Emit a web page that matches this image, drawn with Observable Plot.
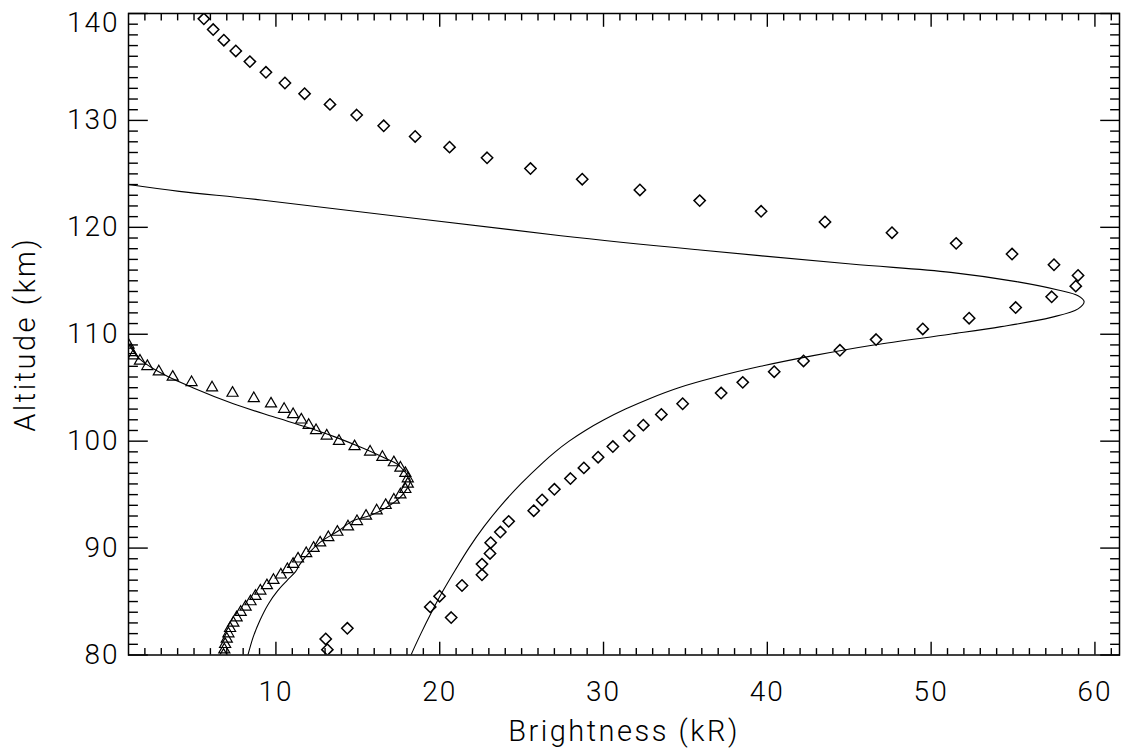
<!DOCTYPE html>
<html><head><meta charset="utf-8">
<script src="https://cdn.jsdelivr.net/npm/d3@7"></script>
<script src="https://cdn.jsdelivr.net/npm/@observablehq/plot@0.6"></script>
<style>
html,body{margin:0;padding:0;background:#fff} svg{display:block}
g[aria-label="text"] text{letter-spacing:2.5px}
g[aria-label$="tick label"] text{letter-spacing:2px}
</style>
</head><body><div id="chart"></div>
<script>
// Measured profile (diamonds): altitude (km) and brightness (kR)
const diamondAlt = [139.5,138.5,137.5,136.5,135.5,134.5,133.5,132.5,131.5,130.5,
  129.5,128.5,127.5,126.5,125.5,124.5,123.5,122.5,121.5,120.5,
  119.5,118.5,117.5,116.5,115.5,114.5,113.5,112.5,111.5,110.5,
  109.5,108.5,107.5,106.5,105.5,104.5,103.5,102.5,101.5,100.5,
  99.5,98.5,97.5,96.5,95.5,94.5,93.5,92.5,91.5,90.5,
  89.5,88.5,87.5,86.5,85.5,84.5,83.5,82.5,81.5,80.5];
const diamondVal = [5.60,6.17,6.82,7.55,8.41,9.39,10.55,11.75,13.30,14.93,
  16.58,18.50,20.60,22.89,25.54,28.70,32.22,35.87,39.62,43.52,
  47.61,51.53,54.94,57.50,58.97,58.83,57.36,55.16,52.32,49.49,
  46.64,44.43,42.21,40.42,38.50,37.18,34.83,33.53,32.43,31.57,
  30.57,29.67,28.80,27.98,27.00,26.25,25.74,24.21,23.70,23.11,
  23.07,22.58,22.58,21.36,19.99,19.42,20.70,14.36,13.04,13.14];

// Second measured profile (triangles)
const triAlt = [109.0,108.5,108.0,107.5,107.0,106.5,106.0,105.5,105.0,104.5,
  104.0,103.5,103.0,102.5,102.0,101.5,101.0,100.5,100.0,99.5,
  99.0,98.5,98.0,97.5,97.0,96.5,96.0,95.5,95.0,94.5,
  94.0,93.5,93.0,92.5,92.0,91.5,91.0,90.5,90.0,89.5,
  89.0,88.5,88.0,87.5,87.0,86.5,86.0,85.5,85.0,84.5,
  84.0,83.5,83.0,82.5,82.0,81.5,81.0,80.5,80.0];
const triVal = [1.0,1.1,1.3,1.7,2.15,2.85,3.7,4.85,6.1,7.35,
  8.65,9.7,10.5,11.05,11.55,12.0,12.45,13.1,13.85,14.8,
  15.75,16.5,17.2,17.6,17.9,18.05,18.05,17.9,17.6,17.2,
  16.7,16.15,15.5,14.95,14.4,13.75,13.2,12.7,12.3,11.85,
  11.35,11.05,10.7,10.3,9.85,9.45,9.05,8.75,8.45,8.15,
  7.85,7.6,7.4,7.2,7.1,7.0,6.9,6.85,6.8];

// Model curve 1 (solid line through the large profile)
const model1Val = [1.0,4.1,9.1,27.4,35.9,45.1,51.2,55.3,57.75,58.97,59.34,58.97,57.34,54.28,51.15,46.5,42.8,39.59,36.87,34.59,32.84,31.34,30.03,28.89,27.9,27.05,26.3,24.95,23.75,22.7,21.78,20.97,20.2,19.5,18.85,18.25,18.15];
const model1Alt = [124.0,123.36,122.56,119.22,117.88,116.57,115.79,114.9,114.14,113.6,113.05,112.37,111.58,110.71,110.0,109.0,108.0,107.0,106.0,105.0,104.0,103.0,102.0,101.0,100.0,99.0,98.0,96.0,94.0,92.0,90.0,88.0,86.0,84.0,82.0,80.0,79.6];

// Model curve 2 (solid line through the triangles)
const model2Val = [1.0,1.68,2.9,5.0,7.4,9.8,11.9,13.6,15.3,16.6,17.38,17.89,18.2,17.99,17.58,16.77,15.75,14.73,13.8,12.75,12.05,11.47,11.2,10.7,10.1,9.55,9.02,8.61,8.31,8.25];
const model2Alt = [109.1,107.7,106.44,104.95,103.5,102.3,101.3,100.4,99.35,98.45,97.88,97.09,96.31,95.54,94.75,93.82,93.04,92.57,91.6,90.6,89.6,88.5,87.8,87.0,86.0,84.8,83.23,81.67,80.11,79.8];

// Axis ticks
const xMajor = [10,20,30,40,50,60];
const xMinor = [2,3,4,5,6,7,8,9,11,12,13,14,15,16,17,18,19,21,22,23,24,25,26,27,28,29,31,32,33,34,35,36,37,38,39,41,42,43,44,45,46,47,48,49,51,52,53,54,55,56,57,58,59,61];
const yMajor = [80,90,100,110,120,130,140];
const yMinor = [81,82,83,84,85,86,87,88,89,91,92,93,94,95,96,97,98,99,101,102,103,104,105,106,107,108,109,111,112,113,114,115,116,117,118,119,121,122,123,124,125,126,127,128,129,131,132,133,134,135,136,137,138,139];
const yLabelsLow = [80,90,100,110,120,130];
const yLabelsTop = [140];

const diamonds = diamondAlt.map((a,i) => ({alt:a, val:diamondVal[i]}));
const tris = triAlt.map((a,i) => ({alt:a, val:triVal[i]}));
const m1 = model1Alt.map((a,i) => ({alt:a, val:model1Val[i]}));
const m2 = model2Alt.map((a,i) => ({alt:a, val:model2Val[i]}));

const font = "Roboto, 'Liberation Sans', sans-serif";
const noText = () => "";
const tickOpts = {strokeWidth: 1.4, tickFormat: noText, label: null};

const chart = Plot.plot({
  width: 1133,
  height: 749,
  marginLeft: 128,
  marginRight: 14,
  marginTop: 13,
  marginBottom: 94.5,
  x: {domain: [1, 61.5]},
  y: {domain: [80, 140]},
  style: {fontFamily: font, fontSize: "28px", fontWeight: 300, color: "black", background: "white"},
  marks: [
    // ticks (inward, all four sides)
    Plot.axisX(xMajor, {anchor: "bottom", tickSize: -12.8, ...tickOpts}),
    Plot.axisX(xMinor, {anchor: "bottom", tickSize: -6.4, ...tickOpts}),
    Plot.axisX(xMajor, {anchor: "top", tickSize: -12.8, ...tickOpts}),
    Plot.axisX(xMinor, {anchor: "top", tickSize: -6.4, ...tickOpts}),
    Plot.axisY(yMajor, {anchor: "left", tickSize: -19.8, ...tickOpts}),
    Plot.axisY(yMinor, {anchor: "left", tickSize: -9.9, ...tickOpts}),
    Plot.axisY(yMajor, {anchor: "right", tickSize: -19.8, ...tickOpts}),
    Plot.axisY(yMinor, {anchor: "right", tickSize: -9.9, ...tickOpts}),
    // tick labels
    Plot.axisX(xMajor, {anchor: "bottom", tickSize: 0, tickPadding: 26, label: null, fontSize: 28}),
    Plot.axisY(yLabelsLow, {anchor: "left", tickSize: 0, tickPadding: 9, label: null, fontSize: 28}),
    Plot.axisY(yLabelsTop, {anchor: "left", tickSize: 0, tickPadding: 9, label: null, fontSize: 28, dy: 10}),
    // axis titles
    Plot.text(["Brightness (kR)"], {text: d => d, frameAnchor: "bottom", lineAnchor: "middle", textAnchor: "middle", dy: 77, fontSize: 29}),
    Plot.text(["Altitude (km)"], {text: d => d, frameAnchor: "left", lineAnchor: "middle", textAnchor: "middle", dx: -103, rotate: -90, fontSize: 29}),
    // data
    Plot.line(m1, {x: "val", y: "alt", stroke: "black", strokeWidth: 1.1, curve: "catmull-rom", clip: true}),
    Plot.line(m2, {x: "val", y: "alt", stroke: "black", strokeWidth: 1.1, curve: "catmull-rom", clip: true}),
    Plot.dot(diamonds, {x: "val", y: "alt", symbol: "diamond2", r: 5.1, stroke: "black", strokeWidth: 1.5, fill: "none", clip: true}),
    Plot.dot(tris, {x: "val", y: "alt", symbol: "triangle2", r: 5.3, stroke: "black", strokeWidth: 1.2, fill: "none", clip: true}),
    Plot.frame({stroke: "black", strokeWidth: 1.5})
  ]
});
document.getElementById("chart").appendChild(chart);
</script>
</body></html>
